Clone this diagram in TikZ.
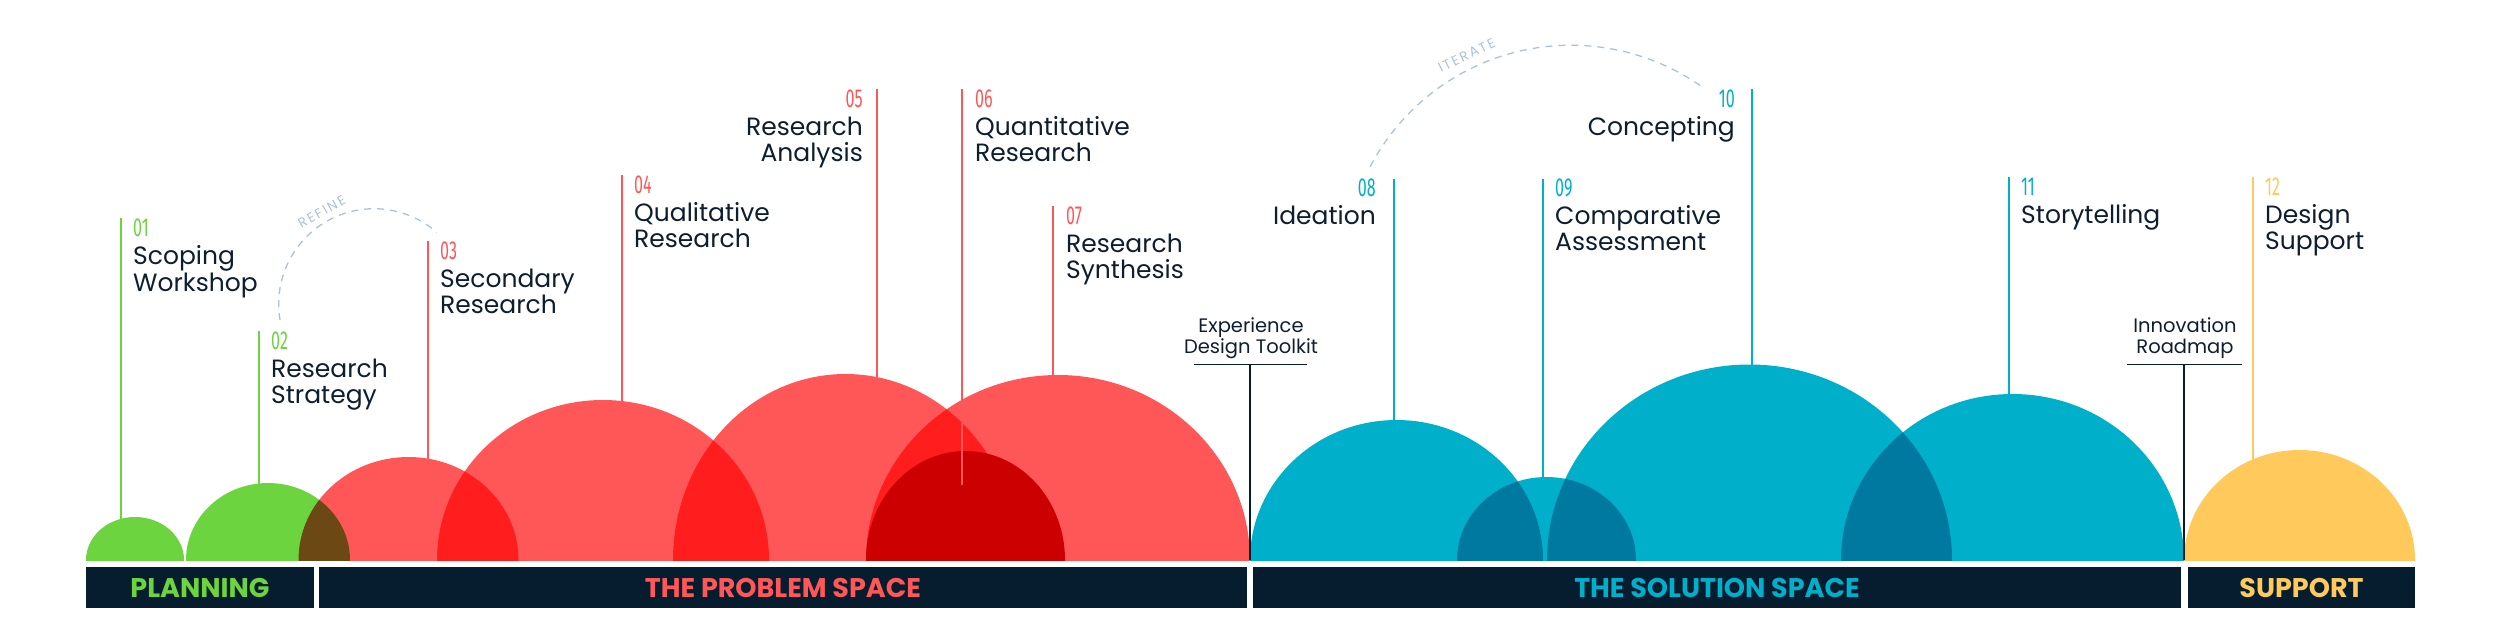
\documentclass[tikz,border=0pt]{standalone}
\usepackage{fontspec}
\setmainfont{Poppins}
\newfontfamily\numfont{Fira Sans}
\newfontfamily\arcfont{Poppins}[LetterSpace=15]
\definecolor{cgreen}{HTML}{6CD43F}
\definecolor{cred}{HTML}{FF5757}
\definecolor{cdark}{HTML}{CC0000}
\definecolor{cteal}{HTML}{00B0CB}
\definecolor{cyellow}{HTML}{FFC95C}
\definecolor{cnavy}{HTML}{051D2F}
\definecolor{ctext}{HTML}{0E1E2E}
\definecolor{carc}{HTML}{A9C3D8}
\begin{document}
\begin{tikzpicture}[x=1pt,y=-1pt,
  lab/.style={font=\fontsize{25}{27}\selectfont, text=ctext, inner sep=0, anchor=base west},
  labr/.style={lab, anchor=base east},
  num/.style={font=\fontsize{26}{28}\numfont, inner sep=0, anchor=base west},
  numr/.style={num, anchor=base east},
  lead/.style={line width=2.2pt},
  tool/.style={font=\fontsize{19.5}{22}\selectfont, text=ctext, inner sep=0, anchor=base},
  toolline/.style={line width=1.4pt, draw=cnavy},
  band/.style={fill=cnavy},
  bandtxt/.style={font=\fontsize{27}{29}\selectfont\bfseries, inner sep=0, anchor=base},
  arcline/.style={draw=carc, line width=1.3pt, dash pattern=on 7pt off 6pt},
  arctxt/.style={font=\fontsize{13.5}{14}\arcfont, text=carc, inner sep=0},
  blob/.style={blend mode=multiply}]
\useasboundingbox (0,0) rectangle (2500,643);

% ---- shapes ----
\begin{scope}
\clip (0,0) rectangle (2500,560);
\fill[cgreen, blob] (135,560) ellipse [x radius=49, y radius=43];
\fill[cgreen, blob] (268,560) ellipse [x radius=82, y radius=77];
\fill[cred, blob] (408.5,560) ellipse [x radius=110, y radius=103];
\fill[cred, blob] (603,560) ellipse [x radius=166, y radius=160];
\fill[cred, blob] (845.5,560) ellipse [x radius=172.5, y radius=186];
\fill[cred, blob] (1058,560) ellipse [x radius=192, y radius=185];
\fill[cdark] (965.5,560) ellipse [x radius=99.5, y radius=109];
\fill[cteal, blob] (1396.5,560) ellipse [x radius=146.5, y radius=140];
\fill[cteal, blob] (1546.5,560) ellipse [x radius=89.5, y radius=83];
\fill[cteal, blob] (1749.5,560) ellipse [x radius=202.5, y radius=195.5];
\fill[cteal, blob] (2012.5,560) ellipse [x radius=171.5, y radius=166];
\fill[cyellow, blob] (2299.5,560) ellipse [x radius=115.5, y radius=110];
\end{scope}

% ---- bands ----
\path[band] (86,567) rectangle (314,608);
\path[band] (319,567) rectangle (1247,608);
\path[band] (1253,567) rectangle (2181,608);
\path[band] (2188,567) rectangle (2415,608);
\node[bandtxt, text=cgreen] (bplan) at (200,597.5) {PLANNING};
\node[bandtxt, text=cred] (bprob) at (783,597.5) {THE PROBLEM SPACE};
\node[bandtxt, text=cteal] (bsol) at (1717,597.5) {THE SOLUTION SPACE};
\node[bandtxt, text=cyellow] (bsup) at (2301.5,597.5) {SUPPORT};

% ---- leader lines ----
\coordinate (l01t) at (121,218);   \coordinate (l01b) at (121,518.8);
\coordinate (l02t) at (259,331);   \coordinate (l02b) at (259,483.5);
\coordinate (l03t) at (428,241);   \coordinate (l03b) at (428,458.6);
\coordinate (l04t) at (622,175);   \coordinate (l04b) at (622,401);
\coordinate (l05t) at (877,89);    \coordinate (l05b) at (877,377);
\coordinate (l06t) at (962,89);    \coordinate (l06b) at (962,485);
\coordinate (l07t) at (1053,206);  \coordinate (l07b) at (1053,375);
\coordinate (l08t) at (1394,178.5);\coordinate (l08b) at (1394,420);
\coordinate (l09t) at (1543,178.5);\coordinate (l09b) at (1543,477);
\coordinate (l10t) at (1752,89);   \coordinate (l10b) at (1752,364.5);
\coordinate (l11t) at (2009,177);  \coordinate (l11b) at (2009,394);
\coordinate (l12t) at (2253,177);  \coordinate (l12b) at (2253,459.3);
\draw[lead, cgreen] (l01t) -- (l01b);
\draw[lead, cgreen] (l02t) -- (l02b);
\draw[lead, cred] (l03t) -- (l03b);
\draw[lead, cred] (l04t) -- (l04b);
\draw[lead, cred] (l05t) -- (l05b);
\draw[lead, cred] (l06t) -- (l06b);
\draw[lead, cred] (l07t) -- (l07b);
\draw[lead, cteal] (l08t) -- (l08b);
\draw[lead, cteal] (l09t) -- (l09b);
\draw[lead, cteal] (l10t) -- (l10b);
\draw[lead, cteal] (l11t) -- (l11b);
\draw[lead, cyellow] (l12t) -- (l12b);

% ---- labels ----
\node[num, text=cgreen] (n01) at (133,236) {\scalebox{0.62}[1]{01}};
\node[lab] (t01a) at (133,264) {Scoping};
\node[lab] (t01b) at (133,291) {Workshop};
\node[num, text=cgreen] (n02) at (271,349) {\scalebox{0.62}[1]{02}};
\node[lab] (t02a) at (271,377) {Research};
\node[lab] (t02b) at (271,403) {Strategy};
\node[num, text=cred] (n03) at (440,259) {\scalebox{0.62}[1]{03}};
\node[lab] (t03a) at (440,287) {Secondary};
\node[lab] (t03b) at (440,313) {Research};
\node[num, text=cred] (n04) at (634,193) {\scalebox{0.62}[1]{04}};
\node[lab] (t04a) at (634,221) {Qualitative};
\node[lab] (t04b) at (634,247) {Research};
\node[numr, text=cred] (n05) at (863,107) {\scalebox{0.62}[1]{05}};
\node[labr] (t05a) at (863,135) {Research};
\node[labr] (t05b) at (863,161) {Analysis};
\node[num, text=cred] (n06) at (975,107) {\scalebox{0.62}[1]{06}};
\node[lab] (t06a) at (975,135) {Quantitative};
\node[lab] (t06b) at (975,161) {Research};
\node[num, text=cred] (n07) at (1066,224) {\scalebox{0.62}[1]{07}};
\node[lab] (t07a) at (1066,252) {Research};
\node[lab] (t07b) at (1066,278) {Synthesis};
\node[numr, text=cteal] (n08) at (1376,196.5) {\scalebox{0.62}[1]{08}};
\node[labr] (t08a) at (1376,224.5) {Ideation};
\node[num, text=cteal] (n09) at (1555,196.5) {\scalebox{0.62}[1]{09}};
\node[lab] (t09a) at (1555,224.5) {Comparative};
\node[lab] (t09b) at (1555,250.5) {Assessment};
\node[numr, text=cteal] (n10) at (1735,107) {\scalebox{0.62}[1]{10}};
\node[labr] (t10a) at (1735,135) {Concepting};
\node[num, text=cteal] (n11) at (2021,195) {\scalebox{0.62}[1]{11}};
\node[lab] (t11a) at (2021,223) {Storytelling};
\node[num, text=cyellow] (n12) at (2265,195) {\scalebox{0.62}[1]{12}};
\node[lab] (t12a) at (2265,223) {Design};
\node[lab] (t12b) at (2265,249) {Support};

% ---- toolkit / roadmap ----
\node[tool] (edt1) at (1251,332.8) {Experience};
\node[tool] (edt2) at (1251,353.8) {Design Toolkit};
\coordinate (edl) at (1194,364.5); \coordinate (edr) at (1307,364.5);
\coordinate (edm) at (1250,364.5); \coordinate (edb) at (1250,560);
\draw[toolline] (edl) -- (edr);
\draw[toolline] (edm) -- (edb);
\node[tool] (ir1) at (2185,332.7) {Innovation};
\node[tool] (ir2) at (2185,353.3) {Roadmap};
\coordinate (irl) at (2127,364.3); \coordinate (irr) at (2242,364.3);
\coordinate (irm) at (2184,364.3); \coordinate (irb) at (2184,560);
\draw[toolline] (irl) -- (irr);
\draw[toolline] (irm) -- (irb);

% ---- loops ----
\coordinate (refA) at (280.06,320.06);
\draw[arcline] (refA) arc[start angle=170.3, end angle=311.2, radius=95.3];
\node[arctxt, rotate=29.4] (refine) at (321.7,211.7) {REFINE};
\coordinate (itA) at (1370.2,166.6);
\draw[arcline] (itA) arc[start angle=207.7, end angle=305.2, radius=226.8];
\node[arctxt, rotate=25.6] (iterate) at (1466.7,55) {ITERATE};
\end{tikzpicture}
\end{document}
